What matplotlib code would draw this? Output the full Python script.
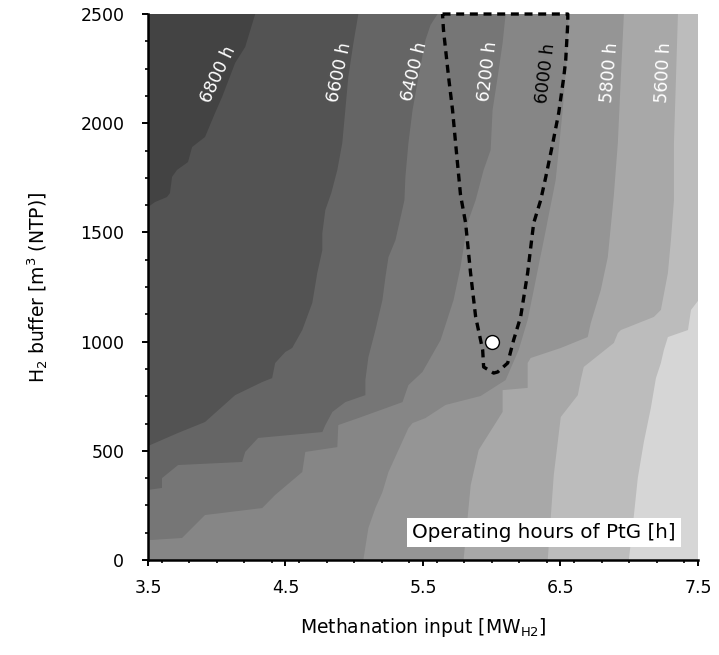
import matplotlib
matplotlib.use("Agg")
import matplotlib.pyplot as plt
from matplotlib.ticker import MultipleLocator

# iso-lines of PtG operating hours, traced from the lower/left edge up to the top edge
h6800_x = [3.5, 3.551, 3.638, 3.660, 3.675, 3.711, 3.791, 3.821, 3.915, 3.988, 4.039, 4.134, 4.207, 4.28]
h6800_y = [1616, 1639, 1662, 1680, 1754, 1786, 1822, 1891, 1937, 2047, 2120, 2276, 2349, 2500]

h6600_x = [3.5, 3.719, 3.915, 4.134, 4.331, 4.403, 4.425, 4.498, 4.549, 4.622, 4.695, 4.731, 4.768,
           4.768, 4.790, 4.833, 4.877, 4.913, 4.935, 4.957, 4.994, 5.030]
h6600_y = [522, 582, 632, 755, 815, 833, 902, 952, 971, 1053, 1177, 1314, 1419,
           1497, 1603, 1680, 1786, 1909, 2060, 2212, 2367, 2500]

h6400_x = [3.5, 3.602, 3.602, 3.719, 4.185, 4.207, 4.301, 4.768, 4.790, 4.841, 4.935, 5.081, 5.081,
           5.103, 5.154, 5.205, 5.227, 5.249, 5.300, 5.365, 5.372, 5.394, 5.424, 5.467, 5.518, 5.555, 5.606]
h6400_y = [321, 330, 375, 435, 449, 495, 559, 586, 618, 678, 723, 755, 824,
           929, 1053, 1190, 1296, 1387, 1465, 1648, 1754, 1909, 2060, 2212, 2381, 2450, 2500]

h6200_x = [3.5, 3.529, 3.748, 3.915, 4.331, 4.425, 4.622, 4.644, 4.877, 4.884, 5.030, 5.351, 5.394,
           5.496, 5.628, 5.722, 5.773, 5.824, 5.883, 5.941, 5.992, 6.006, 6.043, 6.079, 6.101]
h6200_y = [92, 92, 101, 206, 238, 298, 403, 495, 517, 618, 650, 723, 801,
           861, 1007, 1190, 1342, 1543, 1648, 1786, 1877, 2060, 2212, 2367, 2500]

h6000_x = [5.066, 5.103, 5.154, 5.205, 5.249, 5.394, 5.424, 5.518, 5.664, 5.919, 6.101, 6.196, 6.261,
           6.320, 6.393, 6.465, 6.516, 6.545, 6.560]
h6000_y = [0, 147, 238, 311, 403, 604, 627, 650, 710, 751, 824, 962, 1099,
           1282, 1511, 1740, 2060, 2289, 2500]

h5800_x = [5.795, 5.847, 5.905, 6.079, 6.079, 6.261, 6.261, 6.283, 6.502, 6.698, 6.720, 6.793, 6.844,
           6.888, 6.917, 6.939, 6.961]
h5800_y = [0, 343, 504, 678, 778, 788, 902, 925, 971, 1021, 1085, 1236, 1387,
           1671, 1909, 2212, 2500]

h5600_x = [6.407, 6.451, 6.480, 6.502, 6.626, 6.647, 6.669, 6.888, 6.917, 6.939, 7.179, 7.230, 7.281,
           7.303, 7.325, 7.325, 7.340, 7.354]
h5600_y = [0, 389, 540, 655, 755, 824, 884, 994, 1039, 1053, 1113, 1145, 1314,
           1465, 1648, 1909, 2212, 2500]

h5400_x = [6.997, 7.034, 7.062, 7.106, 7.157, 7.194, 7.230, 7.252, 7.281, 7.427, 7.449, 7.56]
h5400_y = [0, 206, 375, 540, 696, 833, 902, 962, 1021, 1053, 1145, 1236]

levels = [6800, 6600, 6400, 6200, 6000, 5800, 5600, 5400]
lines_x = [h6800_x, h6600_x, h6400_x, h6200_x, h6000_x, h5800_x, h5600_x, h5400_x]
lines_y = [h6800_y, h6600_y, h6400_y, h6200_y, h6000_y, h5800_y, h5600_y, h5400_y]

# fill colour above 6800 h, then the band just below each level
top_gray = "#434343"
band_grays = ["#535353", "#656565", "#767676", "#868686", "#959595", "#a8a8a8", "#bcbcbc", "#d6d6d6"]

# contour label positions
label_x = [4.01, 4.892, 5.438, 5.970, 6.393, 6.859, 7.252]
label_y = [2225, 2234, 2239, 2239, 2230, 2234, 2234]
label_rot = [65, 78, 76, 83, 83, 85, 87]
label_color = ["white", "white", "white", "white", "black", "white", "white"]

# feasible region and chosen design point
region_x = [5.642, 6.553, 6.553, 6.538, 6.524, 6.487, 6.444, 6.393, 6.356, 6.305, 6.261, 6.210, 6.159,
            6.116, 6.043, 6.014, 5.941, 5.934, 5.883, 5.846, 5.810, 5.773, 5.737, 5.715, 5.686, 5.649, 5.642]
region_y = [2500, 2500, 2459, 2289, 2212, 2047, 1909, 1754, 1648, 1543, 1314, 1113, 1007,
            902, 861, 856, 884, 962, 1113, 1314, 1543, 1671, 1909, 2060, 2212, 2427, 2500]
design_x = [6.0]
design_y = [1000]

fig = plt.figure(figsize=(7.19, 6.55), dpi=100)
ax = fig.add_axes([0.2058, 0.145, 0.7650, 0.8336])
ax.set_facecolor(top_gray)

# each band covers everything right of its upper iso-line; later bands paint over earlier ones
for xs, ys, gray in zip(lines_x, lines_y, band_grays):
    ax.fill(xs + [7.7, 7.7, 3.3], ys + [2600, -100, -100], color=gray, lw=0)

for lvl, x, y, r, c in zip(levels, label_x, label_y, label_rot, label_color):
    ax.text(x, y, "%d h" % lvl, rotation=r, color=c, fontsize=12.5,
            ha="center", va="center", rotation_mode="anchor")

ax.plot(region_x, region_y, color="black", lw=2.4, ls=(0, (2.4, 1.7)), clip_on=False, zorder=5)
ax.plot(design_x, design_y, "o", ms=10, mfc="white", mec="black", mew=1.0, zorder=6)

ax.text(0.7205, 0.0505, "Operating hours of PtG [h]", transform=ax.transAxes,
        ha="center", va="center", fontsize=14.3,
        bbox=dict(boxstyle="square,pad=0.25", fc="white", ec="none"))

ax.set_xlim(3.5, 7.5)
ax.set_ylim(0, 2500)
ax.set_xticks([3.5, 4.5, 5.5, 6.5, 7.5])
ax.set_yticks([0, 500, 1000, 1500, 2000, 2500])
ax.xaxis.set_minor_locator(MultipleLocator(0.2))
ax.yaxis.set_minor_locator(MultipleLocator(125))
ax.tick_params(which="major", direction="out", length=4, width=1.4, labelsize=12.5)
ax.tick_params(axis="x", which="major", pad=10)
ax.tick_params(axis="y", which="major", pad=13)
ax.tick_params(which="minor", direction="out", length=2, width=1.2)

for side in ["top", "right"]:
    ax.spines[side].set_visible(False)
for side in ["left", "bottom"]:
    ax.spines[side].set_linewidth(1.8)

ax.set_xlabel("Methanation input [MW$_{\\mathrm{H2}}$]", fontsize=13.5, labelpad=13)
ax.set_ylabel("H$_2$ buffer [m$^3$ (NTP)]", fontsize=13.5, labelpad=22)

fig.savefig("out.png", dpi=100)
